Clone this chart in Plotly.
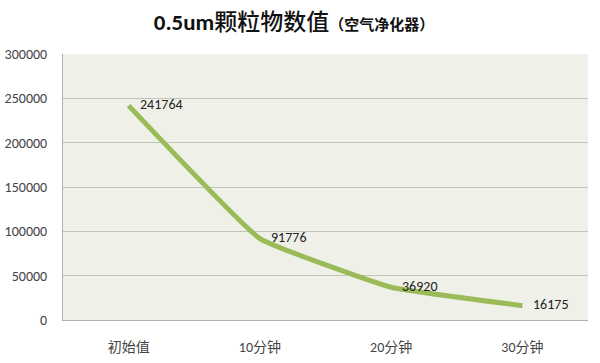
import plotly.graph_objects as go

categories = ["初始值", "10分钟", "20分钟", "30分钟"]
values = [241764, 91776, 36920, 16175]
y_ticks = [0, 50000, 100000, 150000, 200000, 250000, 300000]

FONT = "Carlito, Noto Sans CJK SC, Noto Sans, sans-serif"

fig = go.Figure()
fig.add_trace(go.Scatter(
    x=categories, y=values,
    mode="lines",
    line=dict(color="#9bbb59", width=5, shape="spline", smoothing=0.3),
    hoverinfo="skip",
))
for c, v in zip(categories, values):
    fig.add_annotation(
        x=c, y=v, text=str(v), showarrow=False,
        xanchor="left", yanchor="middle", xshift=9, yshift=1,
        font=dict(family=FONT, size=14, color="#222222"),
    )

fig.update_layout(
    width=600, height=363,
    margin=dict(l=63, r=12, t=54, b=43),
    paper_bgcolor="white",
    plot_bgcolor="#eff1e9",
    showlegend=False,
    title=dict(
        text="<b>0.5um</b><span style='font-weight:500'>颗粒物数值</span><span style='font-size:15px'><b>（空气净化器）</b></span>",
        x=0.49, xanchor="center", y=1 - 22 / 363, yanchor="middle",
        font=dict(family=FONT, size=23, color="#111111"),
    ),
    font=dict(family=FONT, size=14, color="#444444"),
)
fig.update_xaxes(
    type="category",
    showgrid=False,
    showline=True, linecolor="#b0b0b0", linewidth=1,
    ticks="", ticklabelstandoff=14, automargin=False,
    tickfont=dict(size=14, color="#444444"),
    range=[-0.5, 3.5],
)
fig.update_yaxes(
    range=[0, 300000],
    tickvals=y_ticks,
    ticktext=[str(v) for v in y_ticks],
    showgrid=True, gridcolor="#c2c4bc", gridwidth=1,
    showline=True, linecolor="#b0b0b0", linewidth=1,
    zeroline=False, automargin=False,
    ticks="", ticklabelstandoff=12,
    tickfont=dict(size=14, color="#444444"),
)

fig.write_html("out.html", config={"displayModeBar": False},
               post_script="document.body.style.margin='0';")
